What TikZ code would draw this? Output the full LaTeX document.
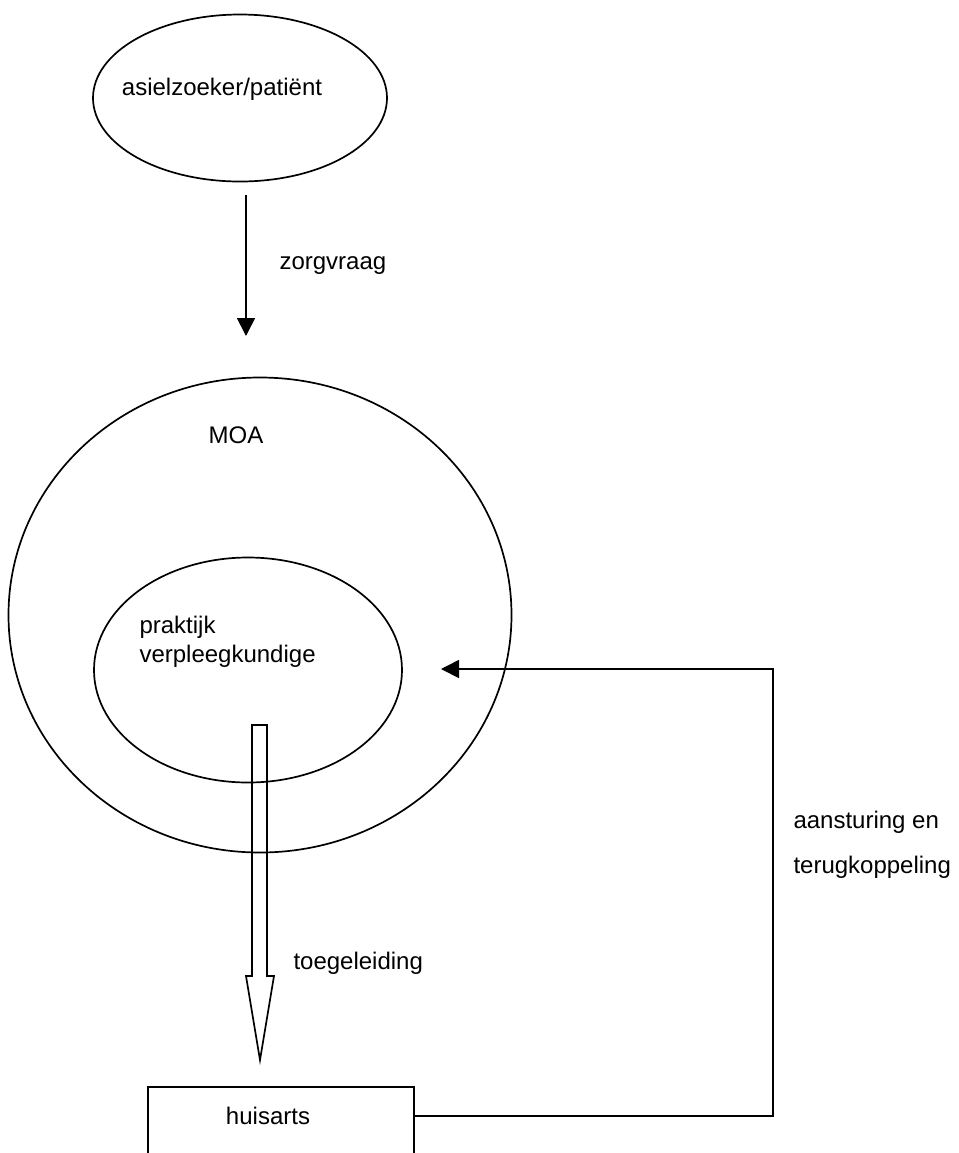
\documentclass[tikz,border=0pt]{standalone}
\usepackage{fontspec}
\setmainfont{Liberation Sans}
\usetikzlibrary{shapes.geometric, arrows.meta}

\begin{document}
\begin{tikzpicture}[x=0.5pt, y=-0.5pt, line width=0.85pt,
  every node/.style = {font=\fontsize{12}{14.4}\selectfont},
  ovaal/.style = {draw, ellipse, inner sep=0pt},
  doos/.style = {draw, rectangle, inner sep=0pt},
  pijl/.style = {-{Triangle[length=9pt, width=9pt]}}]
\useasboundingbox (0,0) rectangle (959,1153);
\node[ovaal, minimum width=147pt, minimum height=83.5pt] (asiel) at (240,98) {};
\node (asieltxt) at (222,89) {asielzoeker/patiënt};
\node[ovaal, minimum width=251.5pt, minimum height=237.5pt] (moa) at (260,615) {};
\node (moatxt) at (236,435) {MOA};
\node[ovaal, minimum width=154pt, minimum height=112.5pt] (pv) at (248,670) {};
\node[anchor=west, align=left] (pvtxt) at (132,642) {praktijk\\verpleegkundige};
\node[doos, minimum width=133pt, minimum height=57pt] (huis) at (281,1144) {};
\node (ha) at (268,1116) {huisarts};
\coordinate (zv1) at (246,195);
\coordinate (zv2) at (246,336);
\coordinate (hoek) at (773,669);
\coordinate (fb) at (441,669);
\draw[pijl] (zv1) -- (zv2) node[midway, right=13pt] {zorgvraag};
\draw[pijl] (ha -| huis.east) -| (hoek) -- (fb);
\node[anchor=west, align=left] (terug) at (786,845) {aansturing en\\[8.1pt]terugkoppeling};
% holle pijl van praktijkverpleegkundige naar huisarts
\draw[line join=miter] (252,725) -- (267,725) -- (267,976) -- (274,976) -- (260,1060)
  -- (246,976) -- (252,976) -- cycle;
\node[anchor=west] (toeg) at (286,963) {toegeleiding};
\end{tikzpicture}
\end{document}
